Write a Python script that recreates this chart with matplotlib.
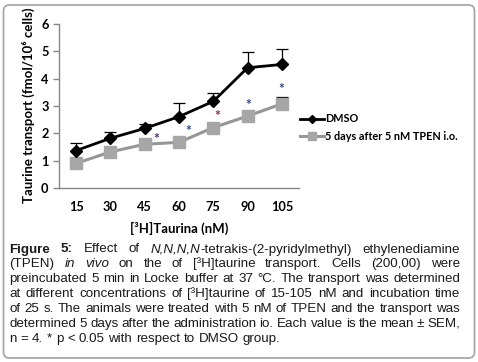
import matplotlib
matplotlib.use("Agg")
import matplotlib.pyplot as plt
from matplotlib.patches import FancyBboxPatch
from matplotlib.transforms import IdentityTransform
import numpy as np

# ---- data ----
categories = ["15", "30", "45", "60", "75", "90", "105"]
dmso = [1.37, 1.82, 2.18, 2.61, 3.17, 4.40, 4.52]
dmso_err = [0.26, 0.24, 0.16, 0.51, 0.32, 0.59, 0.55]
tpen = [0.90, 1.32, 1.60, 1.67, 2.21, 2.63, 3.08]
tpen_err = [0.05, 0.05, 0.05, 0.05, 0.18, 0.05, 0.26]
star_idx = [2, 3, 4, 5, 6]
star_colors = ["#4a3070", "#2a4a8a", "#8a2a3a", "#2a4a8a", "#2a4a8a"]
legend_labels = ["DMSO", "5 days after 5 nM TPEN i.o."]

W, H = 478, 362
fig = plt.figure(figsize=(W / 100, H / 100), dpi=100)
FONT = ["Lato", "DejaVu Sans"]

ax = fig.add_axes([59 / W, 1 - 188 / H, 240 / W, 164 / H])
x = np.arange(len(categories))

ax.errorbar(x, dmso, yerr=[np.zeros(len(dmso)), dmso_err], fmt="none",
            ecolor="black", elinewidth=0.9, capsize=4, capthick=0.9, zorder=2)
ax.errorbar(x, tpen, yerr=[np.zeros(len(tpen)), tpen_err], fmt="none",
            ecolor="black", elinewidth=0.9, capsize=4, capthick=0.9, zorder=2)
l1, = ax.plot(x, dmso, color="black", lw=2.0, marker="D", ms=6.5,
              mfc="black", mec="black", zorder=4, label=legend_labels[0])
l2, = ax.plot(x, tpen, color="#969696", lw=2.2, marker="s", ms=8.5,
              mfc="#a6a6a6", mec="#a6a6a6", zorder=3, label=legend_labels[1])

star_dx = [0.35, 0.27, 0.12, 0.03, -0.03]
star_dy = [0.18, 0.40, 0.44, 0.39, 0.53]
for k, i in enumerate(star_idx):
    ax.text(x[i] + star_dx[k], tpen[i] + star_dy[k], "*", color=star_colors[k],
            ha="center", va="center", fontsize=10, fontweight="bold", family=FONT)

ax.set_xlim(-0.5, len(categories) - 0.5)
ax.set_ylim(0, 6)
ax.set_yticks(range(0, 7))
ax.set_xticks(x)
ax.set_xticklabels(categories)
for sp in ["top", "right"]:
    ax.spines[sp].set_visible(False)
for sp in ["left", "bottom"]:
    ax.spines[sp].set_color("#868686")
    ax.spines[sp].set_linewidth(1.0)
ax.tick_params(axis="x", length=0, pad=9.5)
ax.tick_params(axis="y", length=4, width=1.0, color="#868686", pad=3.5)
for lab in ax.get_xticklabels() + ax.get_yticklabels():
    lab.set_family(FONT)
    lab.set_fontweight("bold")
    lab.set_fontsize(9.2)
ax.set_xlabel("[³H]Taurina (nM)", family=FONT, fontweight="bold", fontsize=9.5)
ax.set_ylabel("Taurine transport (fmol/10⁶ cells)", family=FONT, fontweight="bold",
              fontsize=9.5)
ax.xaxis.set_label_coords(0.5, -0.205)
ax.yaxis.set_label_coords(-0.098, 0.505)

fig.legend(handles=[l1, l2], loc="upper left", bbox_to_anchor=(295 / W, 1 - 108 / H),
           frameon=False, prop={"family": FONT, "weight": "bold", "size": 7.8},
           handlelength=2.2, handletextpad=0.05, labelspacing=0.6, borderpad=0,
           markerscale=0.7)

# ---- border ----
border = FancyBboxPatch((3.5, H - 358), 471, 353, boxstyle="round,pad=0,rounding_size=6",
                        transform=IdentityTransform(), fc="none", ec="#a8a8a8", lw=1.3)
fig.add_artist(border)

# ---- caption (justified) ----
N, I, B = "normal", "italic", "bold"
lines = [
    [[("Figure", B)], [("5:", B)], [("Effect", N)], [("of", N)],
     [("N,N,N,N", I), ("-tetrakis-(2-pyridylmethyl)", N)], [("ethylenediamine", N)]],
    [[("(TPEN)", N)], [("in", I)], [("vivo", I)]] + [[(w, N)] for w in
     "on the of [³H]taurine transport. Cells (200,00) were".split()],
    [[(w, N)] for w in "preincubated 5 min in Locke buffer at 37 °C. The transport was determined".split()],
    [[(w, N)] for w in "at different concentrations of [³H]taurine of 15-105 nM and incubation time".split()],
    [[(w, N)] for w in "of 25 s. The animals were treated with 5 nM of TPEN and the transport was".split()],
    [[(w, N)] for w in "determined 5 days after the administration io. Each value is the mean ± SEM,".split()],
    [[(w, N)] for w in "n = 4. * p < 0.05 with respect to DMSO group.".split()],
]
CFONT = ["Liberation Sans", "DejaVu Sans"]
left, right = 9.5, 460.0
last_line_width = 270.0
base0, dy = 252.5, 14.85
renderer = fig.canvas.get_renderer()

def seg_width(s, style, fs):
    t = fig.text(0, 0, s, fontsize=fs, family=CFONT,
                 fontweight="bold" if style == B else "normal",
                 fontstyle="italic" if style == I else "normal")
    w = t.get_window_extent(renderer).width
    t.remove()
    return w

# font size from the width of the final (ragged) caption line
ref = 10.0
t = fig.text(0, 0, " ".join(w[0][0] for w in lines[-1]), fontsize=ref, family=CFONT)
nat_last = t.get_window_extent(renderer).width
t.remove()
cfs = ref * last_line_width / nat_last

space = seg_width("a a", N, cfs) - seg_width("aa", N, cfs)
for li, words in enumerate(lines):
    widths = [sum(seg_width(s, st, cfs) for s, st in wd) for wd in words]
    if li < len(lines) - 1:
        gap = (right - left - sum(widths)) / (len(words) - 1)
    else:
        gap = space
    xp = left
    yb = H - (base0 + li * dy)
    for wd, ww in zip(words, widths):
        xs = xp
        for s, st in wd:
            fig.text(xs / W, yb / H, s, fontsize=cfs, family=CFONT, va="baseline", ha="left",
                     fontweight="bold" if st == B else "normal",
                     fontstyle="italic" if st == I else "normal", color="#1a1a1a")
            xs += seg_width(s, st, cfs)
        xp += ww + gap

fig.savefig("out.png", dpi=100)
